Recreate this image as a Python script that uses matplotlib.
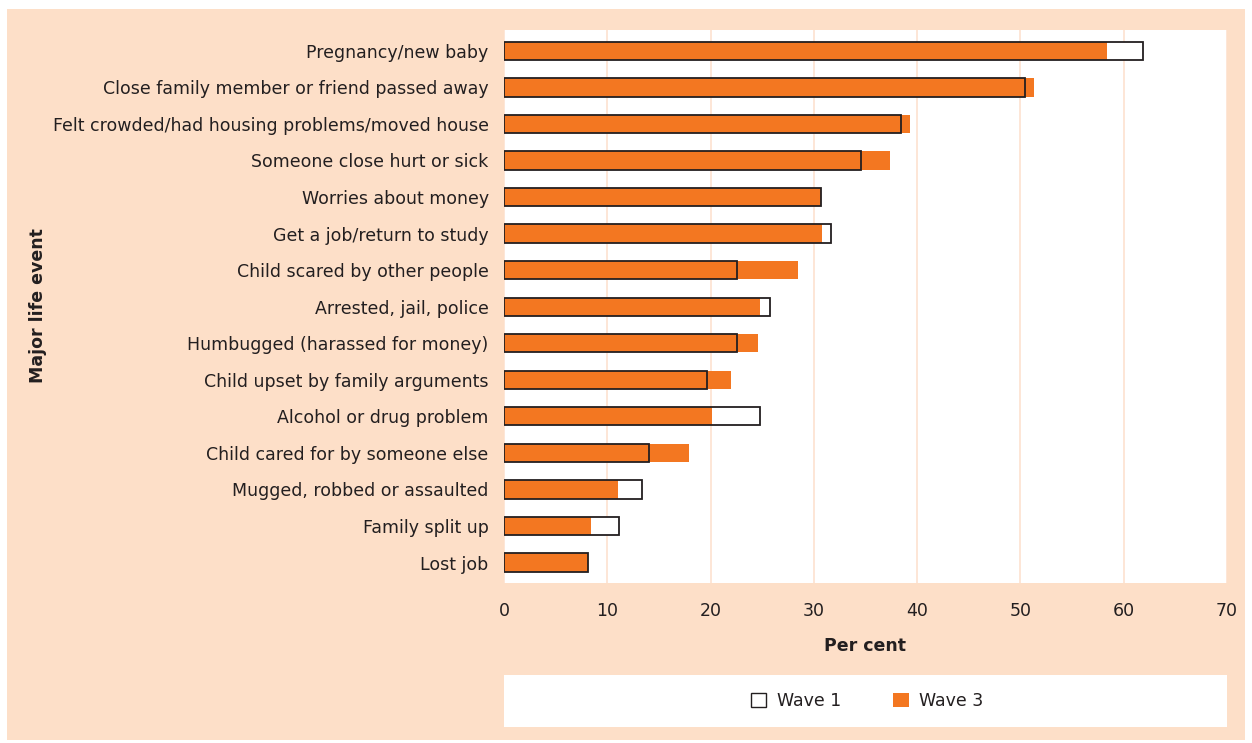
import matplotlib.pyplot as plt
from matplotlib.patches import Rectangle, Patch

events = ['Pregnancy/new baby', 'Close family member or friend passed away',
          'Felt crowded/had housing problems/moved house', 'Someone close hurt or sick',
          'Worries about money', 'Get a job/return to study', 'Child scared by other people',
          'Arrested, jail, police', 'Humbugged (harassed for money)',
          'Child upset by family arguments', 'Alcohol or drug problem',
          'Child cared for by someone else', 'Mugged, robbed or assaulted',
          'Family split up', 'Lost job']
wave1 = [61.9, 50.4, 38.4, 34.6, 30.7, 31.7, 22.6, 25.8, 22.6, 19.7, 24.8, 14.0, 13.4, 11.1, 8.1]
wave3 = [58.4, 51.3, 39.3, 37.4, 30.7, 30.8, 28.5, 24.8, 24.6, 22.0, 20.1, 17.9, 11.0, 8.4, 8.1]
xticks = [0, 10, 20, 30, 40, 50, 60, 70]

peach = '#FDDFC8'
orange = '#F37721'
dark = '#231F20'

fig = plt.figure(figsize=(12.52, 7.43), dpi=100, facecolor='white')
fig.patches.append(Rectangle((7/1252, 1-740/743), 1238/1252, 731/743,
                             transform=fig.transFigure, facecolor=peach,
                             edgecolor='none', zorder=-2))
# legend box
fig.patches.append(Rectangle((504/1252, 1-727/743), 723/1252, 52/743,
                             transform=fig.transFigure, facecolor='white',
                             edgecolor='none', zorder=-1))

ax = fig.add_axes([504/1252, 1-583/743, 723/1252, 553/743])
ax.set_zorder(2)
ax.set_facecolor('white')

y = list(range(len(events)))
ax.barh(y, wave1, height=0.5, color='white', edgecolor='none', zorder=2)
ax.barh(y, wave3, height=0.5, color=orange, edgecolor='none', zorder=3)
ax.barh(y, wave1, height=0.5, facecolor='none', edgecolor=dark, linewidth=1.3, zorder=4)

ax.set_xlim(0, 70)
ax.set_ylim(len(events) - 0.44, -0.57)
ax.set_xticks(xticks)
ax.set_yticks(y)
ax.set_yticklabels(events)
ax.xaxis.grid(True, color='#FDE6D6', linewidth=1.4, zorder=1)
ax.set_axisbelow(True)
ax.tick_params(axis='both', length=0, labelsize=12.5, colors=dark)
ax.tick_params(axis='x', pad=14)
ax.tick_params(axis='y', pad=11)
for s in ax.spines.values():
    s.set_visible(False)

ax.set_xlabel('Per cent', fontsize=12.5, fontweight='bold', color=dark, labelpad=12)
fig.text(38/1252, 1-306/743, 'Major life event', rotation=90, fontsize=12.5,
         fontweight='bold', color=dark, ha='center', va='center')

handles = [Patch(facecolor='white', edgecolor=dark, linewidth=1.0, label='Wave 1'),
           Patch(facecolor=orange, edgecolor='none', label='Wave 3')]
fig.legend(handles=handles, loc='center', bbox_to_anchor=(867/1252, 1-701/743),
           ncol=2, frameon=False, fontsize=12.5, handlelength=0.9, handleheight=0.9,
           columnspacing=3.0, handletextpad=0.6, labelcolor=dark)

fig.savefig('out.png', dpi=100, facecolor='white')
